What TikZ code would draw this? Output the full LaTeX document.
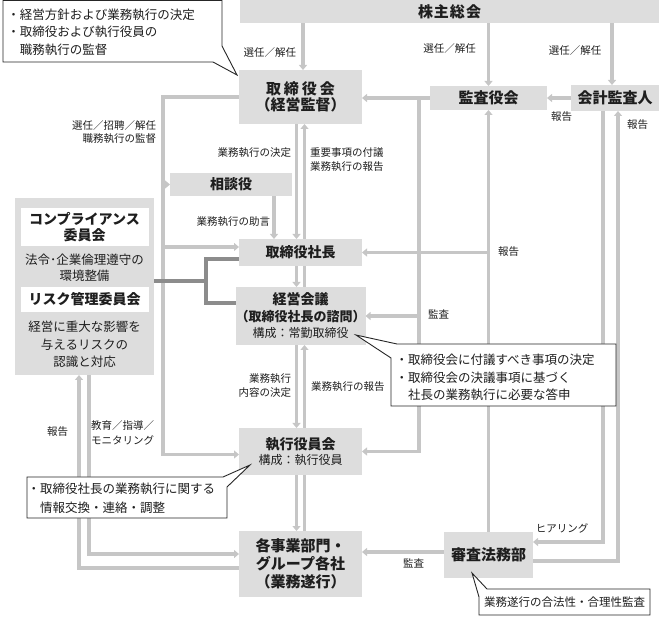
\documentclass[tikz,border=0pt]{standalone}
\usepackage{fontspec}
\setmainfont{Noto Sans CJK JP}
\usetikzlibrary{arrows.meta,backgrounds}
\definecolor{boxgray}{HTML}{DDDDDD}
\definecolor{linegray}{HTML}{C6C6C6}
\definecolor{darkline}{HTML}{8C8C8C}
\definecolor{txt}{HTML}{1E1E1E}
\newcommand\jfs[2]{\fontsize{#1}{#2}\selectfont}
\begin{document}
\begin{tikzpicture}[x=1pt,y=-1pt,
  every node/.style={text=txt, inner sep=0pt, outer sep=0pt},
  box/.style={fill=boxgray, align=center},
  conn/.style={draw=linegray, line width=3.5pt},
  arr/.style={conn, -{Triangle[width=8pt,length=5pt]}},
  dark/.style={draw=darkline, line width=3.5pt},
  lab/.style={font=\jfs{10.5}{14}},
  callout/.style={draw=black!85, fill=white, line width=0.9pt, line join=miter}]
\useasboundingbox (0,0) rectangle (659,617);

% boxes
\node[box, minimum width=419pt, minimum height=23pt, font=\jfs{15}{17}\bfseries] (soukai) at (449.5,11.5) {株\hspace{1pt}主\hspace{1pt}総\hspace{1pt}会};
\node[box, minimum width=123pt, minimum height=54pt, font=\jfs{15}{16}\bfseries] (torishimari) at (300.5,97) {取\hspace{3pt}締\hspace{3pt}役\hspace{3pt}会\\（経営監督）};
\node[box, minimum width=117pt, minimum height=24pt, font=\jfs{15}{17}\bfseries] (kansayaku) at (488.5,98) {監査役会};
\node[box, minimum width=88pt, minimum height=26pt, font=\jfs{15}{17}\bfseries] (kaikei) at (615,98) {会計監査人};
\node[box, minimum width=122pt, minimum height=23pt, font=\jfs{14}{16}\bfseries] (soudan) at (231,184.5) {相談役};
\node[box, minimum width=123pt, minimum height=27pt, font=\jfs{14}{16}\bfseries] (shachou) at (300.5,252.5) {取締役社長};
\node[box, minimum width=123pt, minimum height=58pt, font=\jfs{14}{16.5}\bfseries] (keiei) at (300.5,316) {経営会議\\\jfs{13}{16.5}（取締役社長の諮問）\\\mdseries\jfs{12}{16}構成：常勤取締役};
\node[box, minimum width=123pt, minimum height=47pt, font=\jfs{14}{15}\bfseries] (shikkou) at (300.5,451.5) {執行役員会\\\mdseries\jfs{12}{15}構成：執行役員};
\node[box, minimum width=123pt, minimum height=66pt, font=\jfs{15}{18}\bfseries] (jigyou) at (300.5,564) {各事業部門・\\グループ各社\\（業務遂行）};
\node[box, minimum width=89pt, minimum height=46pt, font=\jfs{15}{17}\bfseries] (shinsa) at (488.5,555) {審査法務部};
\node[box, minimum width=139pt, minimum height=177pt] (comp) at (84.5,286.5) {};
\node[fill=white, minimum width=128pt, minimum height=38pt, align=center, font=\jfs{14}{15.5}\bfseries] (compT) at (84.5,227) {コンプライアンス\\委員会};
\node[align=center, font=\jfs{12.5}{15.5}] (compD) at (84.5,267.5) {法令･企業倫理遵守の\\環境整備};
\node[fill=white, minimum width=128pt, minimum height=25pt, font=\jfs{14}{16}\bfseries] (riskT) at (84.5,299.5) {リスク管理委員会};
\node[align=center, font=\jfs{12.5}{17.5}] (riskD) at (84.5,344.5) {経営に重大な影響を\\与えるリスクの\\認識と対応};

% helper coordinates
\coordinate (xa) at (303,0);
\coordinate (xc) at (612,0);
\coordinate (xaud) at (419,0);
\coordinate (xhear) at (603,0);
\coordinate (xrep) at (618,0);
\coordinate (xdn) at (296.5,0);
\coordinate (xup) at (304.5,0);
\coordinate (xtrunk) at (163,0);
\coordinate (xsou) at (274,0);
\coordinate (xcmp) at (206,0);
\coordinate (xrepL) at (79,0);
\coordinate (xedu) at (89,0);
\coordinate (shH) at ([yshift=13pt]shinsa.east);
\coordinate (shR) at ([yshift=-6pt]shinsa.east);
\coordinate (shL) at ([yshift=3pt]shinsa.west);
\coordinate (shT) at ([yshift=5.5pt]shachou.west);
\coordinate (shD) at ([yshift=-6.5pt]shachou.west);
\coordinate (keD) at ([yshift=13pt]keiei.west);
\coordinate (cpE) at ([yshift=5.5pt]comp.east);
\coordinate (shk) at ([yshift=-3pt]shikkou.west);
\coordinate (jgB) at ([yshift=-4pt]jigyou.west);
\coordinate (jgE) at ([yshift=10pt]jigyou.west);

% connectors
\begin{pgfonlayer}{background}
\draw[arr] (soukai.south -| xa) -- (torishimari.north -| xa);
\draw[arr] (soukai.south -| kansayaku.north) -- (kansayaku.north);
\draw[arr] (soukai.south -| xc) -- (kaikei.north -| xc);
\draw[arr] (kansayaku.west) -- (torishimari.east |- kansayaku.west);
\draw[arr] (kaikei.west) -- (kansayaku.east);
\draw[arr] (kansayaku.west -| xaud) |- (shikkou.east);
\draw[arr] (keiei.east -| xaud) -- (keiei.east);
\draw[arr] (shinsa.north) -- (kansayaku.south);
\draw[arr] (shachou.east -| shinsa.north) -- (shachou.east);
\draw[arr] (kaikei.south -| xhear) |- (shH);
\draw[arr] (shR) -| (kaikei.south -| xrep);
\draw[arr] (shL) -- (jigyou.east |- shL);
\draw[arr] (torishimari.south -| xdn) -- (shachou.north -| xdn);
\draw[arr] (shachou.south -| xdn) -- (keiei.north -| xdn);
\draw[arr] (keiei.north -| xup) -- (torishimari.south -| xup);
\draw[arr] (keiei.south -| xdn) -- (shikkou.north -| xdn);
\draw[arr] (shikkou.north -| xup) -- (keiei.south -| xup);
\draw[arr] (shikkou.south -| xdn) -- (jigyou.north -| xdn);
\draw[conn] (shikkou.south -| xup) -- (jigyou.north -| xup);
\draw[arr] (torishimari.west) -| (xtrunk |- shk) -- (shk);
\draw[arr] (soudan.west -| xtrunk) -- (soudan.west);
\draw[arr] (shT -| xtrunk) -- (shT);
\draw[arr] (soudan.south -| xsou) -- (shachou.north -| xsou);
\draw[dark] (cpE) -- (cpE -| xcmp);
\draw[dark] (shD) -| (xcmp |- keD) -- (keD);
\draw[arr] (jgB) -| (comp.south -| xrepL);
\draw[arr] (comp.south -| xedu) |- (jgE);
\end{pgfonlayer}

% labels
\node[lab, anchor=east] (l1) at (296,53) {選任／解任};
\node[lab] (l2) at (449.5,49) {選任／解任};
\node[lab] (l3) at (575,51) {選任／解任};
\node[lab] (l4) at (561.5,117) {報告};
\node[lab] (l5) at (637.5,125) {報告};
\node[lab, anchor=east, align=right, font=\jfs{10.5}{13}] (l6) at (156,132.5) {選任／招聘／解任\\職務執行の監督};
\node[lab, anchor=east] (l7) at (291,153) {業務執行の決定};
\node[lab, anchor=west, align=left] (l8) at (310,160) {重要事項の付議\\業務執行の報告};
\node[lab, anchor=east] (l9) at (270,222) {業務執行の助言};
\node[lab, anchor=west] (l10) at (498,252) {報告};
\node[lab, anchor=west] (l11) at (428,314) {監査};
\node[lab, anchor=east, align=right] (l12) at (291,386) {業務執行\\内容の決定};
\node[lab, anchor=west] (l13) at (311,387) {業務執行の報告};
\node[lab] (l14) at (57.5,432) {報告};
\node[lab, anchor=west, align=left, font=\jfs{10.5}{15}] (l15) at (91,432.5) {教育／指導／\\モニタリング};
\node[lab] (l16) at (562,528) {ヒアリング};
\node[lab] (l17) at (413.5,563) {監査};

% callouts
\draw[callout] (3,0.5) -- (222,0.5) -- (222,46) -- (237,75) -- (213,62) -- (3,62) -- cycle;
\node[anchor=west, align=left, font=\jfs{12.5}{17.5}] (c1) at (7.5,32) {・経営方針および業務執行の決定\\・取締役および執行役員の\\　職務執行の監督};
\draw[callout] (397,344) -- (616,344) -- (616,406) -- (391,406) -- (391,358) -- (356,335) -- cycle;
\node[anchor=west, align=left, font=\jfs{12.5}{17.5}] (c2) at (395.5,377.5) {・取締役会に付議すべき事項の決定\\・取締役会の決議事項に基づく\\　社長の業務執行に必要な答申};
\draw[callout] (27,477) -- (223,477) -- (250,465) -- (227,487) -- (227,518) -- (27,518) -- cycle;
\node[anchor=west, align=left, font=\jfs{12.5}{19}] (c3) at (27.5,498.5) {・取締役社長の業務執行に関する\\　情報交換・連絡・調整};
\draw[callout] (487,589) -- (650,589) -- (650,615) -- (479,615) -- (479,597) -- (472,573) -- cycle;
\node[font=\jfs{11.5}{14}] (c4) at (564.5,602) {業務遂行の合法性・合理性監査};
\end{tikzpicture}
\end{document}
